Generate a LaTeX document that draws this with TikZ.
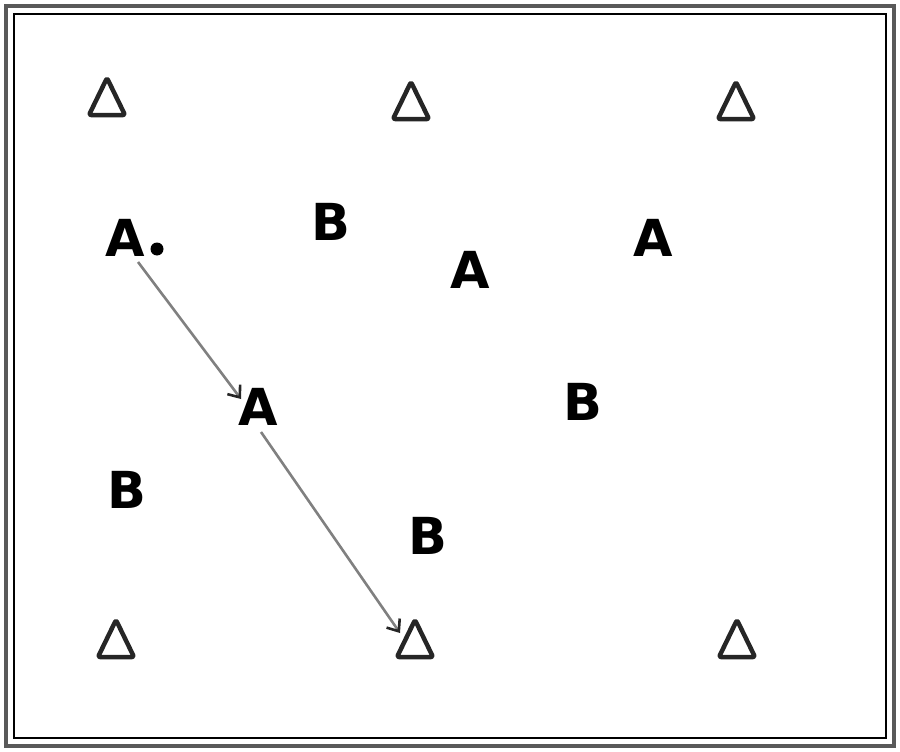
\documentclass[tikz,border=0pt]{standalone}
\usepackage{fontspec}
\setmainfont{DejaVu Sans}
\usetikzlibrary{arrows.meta,calc}
\begin{document}
\begin{tikzpicture}[x=1pt,y=-1pt,
  cone/.style={draw=black!85,line width=4.5pt,rounded corners=2pt,line join=round},
  lett/.style={font=\fontsize{51}{51}\selectfont\bfseries,inner sep=0pt},
  run/.style={draw=black!50,line width=2.6pt,-{Straight Barb[length=10pt,width=16pt,line width=2.6pt,color=black!85]}},
]
\useasboundingbox (0,0) rectangle (900,752);
\draw[black!65,line width=4pt] (6,6) rectangle (894,746);
\draw[black,line width=1.3pt] (14,14) rectangle (886,738);
% cones
\foreach \n/\x/\y in {c1/107/97, c2/411/101, c3/736/101, c4/116/639, c5/415/639, c6/737/639}{
  \coordinate (\n) at (\x,\y);
  \draw[cone] ($(\n)+(0,-19)$) -- ($(\n)+(18,18)$) -- ($(\n)+(-18,18)$) -- cycle;
}
% players
\node[lett] (a1) at (125,238) {A};
\fill (157,249) circle (6.5);
\node[lett] (b1) at (331,222) {B};
\node[lett] (a2) at (470,270) {A};
\node[lett] (a3) at (653,238) {A};
\node[lett] (a4) at (258,407) {A};
\node[lett] (b2) at (583,402) {B};
\node[lett] (b3) at (127,490) {B};
\node[lett] (b4) at (428,536) {B};
\draw[run] (138,262) -- ($(a4)+(-17,-8)$);
\draw[run] ($(a4)+(3,25)$) -- ($(c5)+(-15,-6)$);
\end{tikzpicture}
\end{document}
